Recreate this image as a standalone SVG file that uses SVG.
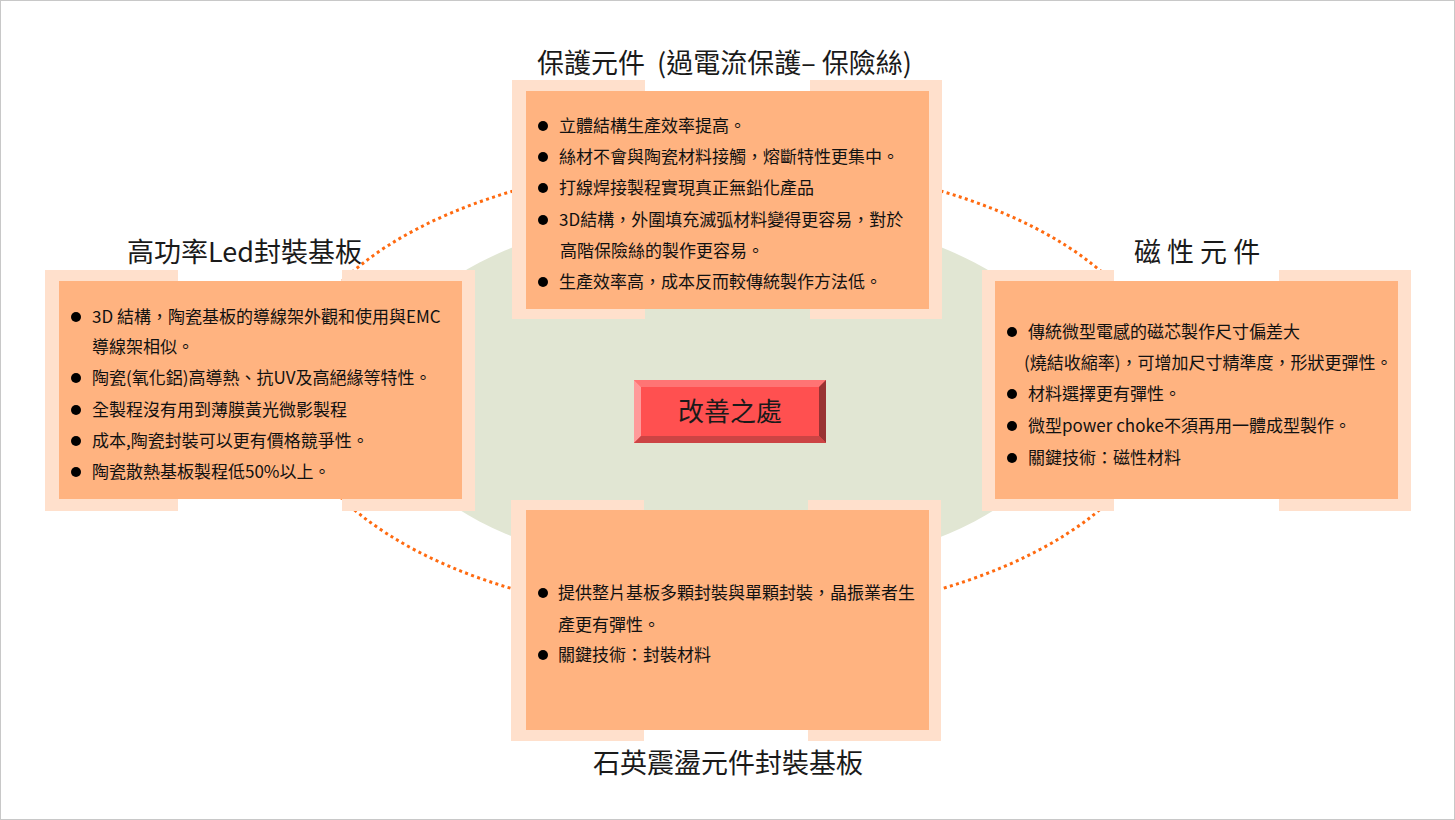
<svg xmlns="http://www.w3.org/2000/svg" width="1455" height="820" viewBox="0 0 1455 820">
<style>
.lt{fill:#FFE0CC}
.dk{fill:#FFB380}
.ttl{font-family:"Noto Sans CJK TC","Noto Sans CJK SC",sans-serif;font-size:27px;fill:#1a1a1a;white-space:pre}
.bd{font-family:"Noto Sans CJK TC","Noto Sans CJK SC",sans-serif;font-size:17px;fill:#111}
.bl{fill:#000}
</style>
<rect x="0.5" y="0.5" width="1454" height="819" fill="#fff" stroke="#c8c8c8"/>
<ellipse cx="727" cy="392" rx="350" ry="183" fill="#E1E6D3"/>
<g id="connectors">
<ellipse cx="727" cy="390" rx="438" ry="228" fill="none" stroke="#FF6A10" stroke-width="3" stroke-dasharray="3 3.4"/>
</g>
<g id="node-top">
<rect class="lt" x="512" y="80" width="133" height="239"/>
<rect class="lt" x="810" y="80" width="132" height="239"/>
<rect class="dk" x="526" y="91" width="403" height="218"/>
<text class="ttl" x="537" y="73" xml:space="preserve">保護元件  (過電流保護– 保險絲)</text>
<g class="bd">
<circle class="bl" cx="543" cy="126" r="5"/><text x="559" y="132">立體結構生產效率提高。</text>
<circle class="bl" cx="543" cy="157" r="5"/><text x="559" y="163">絲材不會與陶瓷材料接觸，熔斷特性更集中。</text>
<circle class="bl" cx="543" cy="188" r="5"/><text x="559" y="194">打線焊接製程實現真正無鉛化產品</text>
<circle class="bl" cx="543" cy="220" r="5"/><text x="559" y="226">3D結構，外圍填充滅弧材料變得更容易，對於</text>
<text x="560" y="257">高階保險絲的製作更容易。</text>
<circle class="bl" cx="543" cy="282" r="5"/><text x="559" y="288">生產效率高，成本反而較傳統製作方法低。</text>
</g>
</g>
<g id="node-left">
<rect class="lt" x="45" y="270" width="133" height="241"/>
<rect class="lt" x="342" y="270" width="133" height="241"/>
<rect class="dk" x="59" y="281" width="403" height="218"/>
<text class="ttl" x="127" y="262">高功率Led封裝基板</text>
<g class="bd">
<circle class="bl" cx="76" cy="317" r="5"/><text x="92" y="323">3D 結構，陶瓷基板的導線架外觀和使用與EMC</text>
<text x="92" y="353">導線架相似。</text>
<circle class="bl" cx="76" cy="378" r="5"/><text x="92" y="384">陶瓷(氧化鋁)高導熱、抗UV及高絕緣等特性。</text>
<circle class="bl" cx="76" cy="410" r="5"/><text x="92" y="416">全製程沒有用到薄膜黃光微影製程</text>
<circle class="bl" cx="76" cy="441" r="5"/><text x="92" y="447">成本,陶瓷封裝可以更有價格競爭性。</text>
<circle class="bl" cx="76" cy="472" r="5"/><text x="92" y="478">陶瓷散熱基板製程低50%以上。</text>
</g>
</g>
<g id="node-right">
<rect class="lt" x="982" y="270" width="132" height="241"/>
<rect class="lt" x="1279" y="270" width="132" height="241"/>
<rect class="dk" x="995" y="281" width="403" height="218"/>
<text class="ttl" x="1134" y="262">磁 性 元 件</text>
<g class="bd">
<circle class="bl" cx="1012" cy="332" r="5"/><text x="1028" y="338">傳統微型電感的磁芯製作尺寸偏差大</text>
<text x="1024" y="369">(燒結收縮率)，可增加尺寸精準度，形狀更彈性。</text>
<circle class="bl" cx="1012" cy="394" r="5"/><text x="1028" y="400">材料選擇更有彈性。</text>
<circle class="bl" cx="1012" cy="426" r="5"/><text x="1028" y="432">微型power choke不須再用一體成型製作。</text>
<circle class="bl" cx="1012" cy="458" r="5"/><text x="1028" y="464">關鍵技術：磁性材料</text>
</g>
</g>
<g id="node-bottom">
<rect class="lt" x="511" y="500" width="133" height="241"/>
<rect class="lt" x="808" y="500" width="133" height="241"/>
<rect class="dk" x="526" y="510" width="403" height="220"/>
<text class="ttl" x="593" y="773">石英震盪元件封裝基板</text>
<g class="bd">
<circle class="bl" cx="543" cy="593" r="5"/><text x="558" y="599">提供整片基板多顆封裝與單顆封裝，晶振業者生</text>
<text x="558" y="631">產更有彈性。</text>
<circle class="bl" cx="543" cy="655" r="5"/><text x="558" y="661">關鍵技術：封裝材料</text>
</g>
</g>
<g id="node-center">
<rect x="634" y="380" width="192" height="63" fill="#FF5050"/>
<polygon points="634,380 826,380 819,387 641,387" fill="#FF7474"/>
<polygon points="634,380 641,387 641,436 634,443" fill="#FF9A9A"/>
<polygon points="826,380 826,443 819,436 819,387" fill="#993333"/>
<polygon points="634,443 826,443 819,436 641,436" fill="#CC4444"/>
<text x="730" y="421" text-anchor="middle" font-family="Noto Sans CJK TC, Noto Sans CJK SC, sans-serif" font-size="26" fill="#1a1a1a">改善之處</text>
</g>
</svg>
